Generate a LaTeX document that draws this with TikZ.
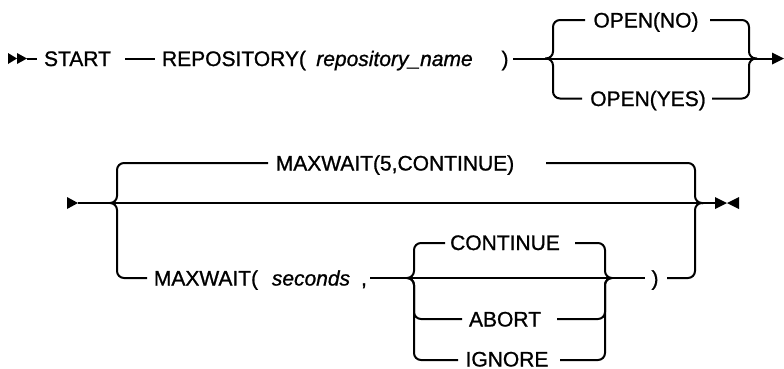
\documentclass[tikz,border=0pt]{standalone}
\usepackage{fontspec}
\setmainfont{Liberation Sans}[FakeBold=1]
\begin{document}
\begin{tikzpicture}[x=1pt,y=-1pt,
  rail/.style={line width=2pt, rounded corners=7pt},
  lbl/.style={anchor=base, inner sep=0pt, font=\fontsize{21}{25}\selectfont},
  var/.style={anchor=base, inner sep=0pt, font=\fontsize{21}{25}\selectfont\itshape},
  tip/.style={fill=black, draw=none}]
\useasboundingbox (0,0) rectangle (784,368);
% ---------- row 1 ----------
\node[lbl] (start) at (77.5,66) {START};
\node[lbl] (repo) at (234,66) {REPOSITORY(};
\node[var] (rname) at (394.5,66) {repository\_name};
\node[lbl] (rp1) at (505,66) {)};
\node[lbl] (openno) at (646,27.5) {OPEN(NO)};
\node[lbl] (openyes) at (648,106) {OPEN(YES)};
\coordinate (a0) at (8,58.5);
\coordinate (a1) at (17,58.5);
\coordinate (a2) at (27,58.5);
\coordinate (a3) at (37,58.5);
\fill[tip] (8,53) -- (a1) -- (8,64) -- cycle;
\fill[tip] (17,53) -- (a2) -- (17,64) -- cycle;
\draw[rail] (a2) -- (a3);
\coordinate (b0) at (125,58.5);
\coordinate (b1) at (155,58.5);
\draw[rail] (b0) -- (b1);
\coordinate (m0) at (513,58.5);
\coordinate (m1) at (772,58.5);
\coordinate (j1) at (545,58.5);
\coordinate (j2) at (757,58.5);
\draw[rail] (m0) -- (m1);
\fill[tip] (772,52.5) -- (784,58.5) -- (772,64.5) -- cycle;
\draw[rail] (j1) -| (553,20) -- (585,20);
\draw[rail] (710,20) -| (749,58.5) -- (j2);
\draw[rail] (j1) -| (553,98.5) -- (582,98.5);
\draw[rail] (712,98.5) -| (749,58.5) -- (j2);
% ---------- row 2 ----------
\node[lbl] (mw5) at (395,170.5) {MAXWAIT(5,CONTINUE)};
\node[lbl] (mw) at (206,285.5) {MAXWAIT(};
\node[var] (sec) at (311,285.5) {seconds};
\node[lbl] (comma) at (364,285.5) {,};
\node[lbl] (cont) at (505,250) {CONTINUE};
\node[lbl] (abort) at (505,326.5) {ABORT};
\node[lbl] (ignore) at (507,366.5) {IGNORE};
\node[lbl] (rp2) at (655,285.5) {)};
\coordinate (r0) at (78,203);
\coordinate (r1) at (715,203);
\coordinate (k1) at (110,203);
\coordinate (k2) at (703,203);
\fill[tip] (67,197) -- (r0) -- (67,209) -- cycle;
\draw[rail] (r0) -- (r1);
\draw[rail] (k1) -| (117,163) -- (268,163);
\draw[rail] (546,163) -| (695,203) -- (k2);
\draw[rail] (k1) -| (117,278) -- (147,278);
\draw[rail] (667,278) -| (695,203) -- (k2);
\coordinate (i0) at (370,278);
\coordinate (i1) at (645,278);
\coordinate (n1) at (407,278);
\coordinate (n2) at (612,278);
\draw[rail] (i0) -- (i1);
\draw[rail] (n1) -| (414,243) -- (445,243);
\draw[rail] (n1) -| (414,319) -- (462,319);
\draw[rail] (n1) -| (414,360) -- (458,360);
\draw[rail] (575,243) -| (605,278) -- (n2);
\draw[rail] (557,319) -| (605,278) -- (n2);
\draw[rail] (560,360) -| (605,278) -- (n2);
\fill[tip] (715,197) -- (727,203) -- (715,209) -- cycle;
\fill[tip] (739,197) -- (727,203) -- (739,209) -- cycle;
\end{tikzpicture}
\end{document}
